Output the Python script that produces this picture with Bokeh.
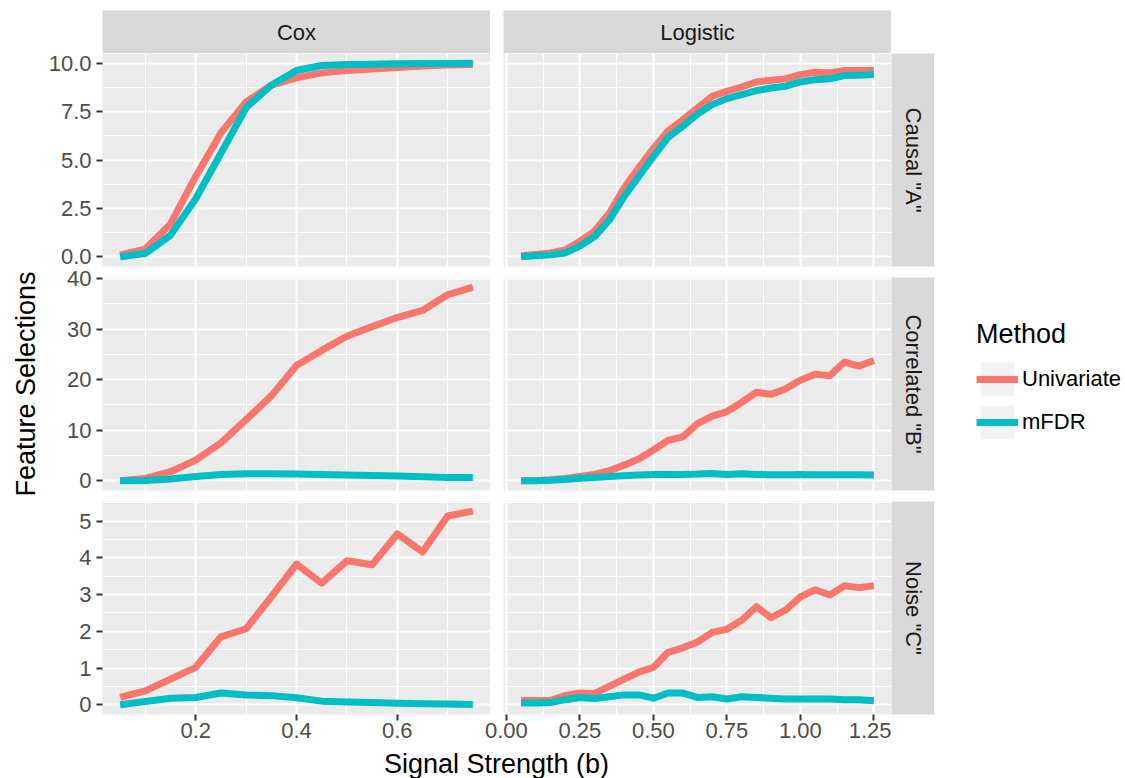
import math
from bokeh.plotting import figure
from bokeh.models import (FixedTicker, LinearAxis, Grid, Range1d, NumeralTickFormatter,
                          Label, Legend, LegendItem, GridBox, Spacer)
from bokeh.embed import file_html
from bokeh.resources import INLINE

# ---------------- data ----------------
cox_x = [0.05, 0.10, 0.15, 0.20, 0.25, 0.30, 0.35, 0.40, 0.45, 0.50, 0.55, 0.60, 0.65, 0.70, 0.75]
logit_x = [0.05, 0.10, 0.15, 0.20, 0.25, 0.30, 0.35, 0.40, 0.45, 0.50, 0.55, 0.60, 0.65,
           0.70, 0.75, 0.80, 0.85, 0.90, 0.95, 1.00, 1.05, 1.10, 1.15, 1.20, 1.25]

cox_causal_uni = [0.1, 0.4, 1.7, 4.15, 6.4, 8.0, 8.86, 9.24, 9.5, 9.62, 9.7, 9.78, 9.85, 9.9, 9.93]
cox_causal_mfdr = [0.0, 0.17, 1.12, 3.0, 5.35, 7.7, 8.86, 9.62, 9.88, 9.93, 9.95, 9.97, 9.98, 9.99, 10.0]
logit_causal_uni = [0.05, 0.12, 0.2, 0.35, 0.8, 1.33, 2.25, 3.54, 4.6, 5.6, 6.5, 7.08, 7.69, 8.29,
                    8.55, 8.77, 9.03, 9.12, 9.19, 9.41, 9.53, 9.5, 9.62, 9.62, 9.64]
logit_causal_mfdr = [0.0, 0.05, 0.1, 0.2, 0.55, 1.04, 1.9, 3.1, 4.15, 5.18, 6.17, 6.74, 7.37, 7.86,
                     8.17, 8.38, 8.58, 8.72, 8.81, 9.03, 9.15, 9.19, 9.36, 9.38, 9.41]

cox_corr_uni = [0.0, 0.47, 1.8, 4.1, 7.5, 12.1, 16.8, 22.8, 25.8, 28.6, 30.5, 32.3, 33.7, 36.8, 38.3]
cox_corr_mfdr = [0.0, 0.05, 0.35, 0.87, 1.27, 1.4, 1.4, 1.35, 1.27, 1.15, 1.05, 0.93, 0.8, 0.67, 0.67]
logit_corr_uni = [0.0, 0.07, 0.2, 0.47, 0.87, 1.27, 2.0, 3.1, 4.3, 6.1, 8.0, 8.7, 11.3, 12.8,
                  13.7, 15.5, 17.5, 17.1, 18.2, 19.9, 21.1, 20.8, 23.5, 22.7, 23.8]
logit_corr_mfdr = [0.0, 0.0, 0.1, 0.27, 0.5, 0.67, 0.87, 1.0, 1.13, 1.27, 1.27, 1.27, 1.33, 1.47,
                   1.27, 1.4, 1.27, 1.2, 1.2, 1.27, 1.2, 1.2, 1.2, 1.2, 1.13]

cox_noise_uni = [0.2, 0.38, 0.7, 1.02, 1.85, 2.07, 2.94, 3.83, 3.31, 3.92, 3.81, 4.65, 4.16, 5.14, 5.27]
cox_noise_mfdr = [0.0, 0.09, 0.18, 0.2, 0.32, 0.27, 0.25, 0.19, 0.1, 0.08, 0.06, 0.04, 0.03, 0.02, 0.01]
logit_noise_uni = [0.12, 0.12, 0.12, 0.25, 0.32, 0.31, 0.5, 0.7, 0.89, 1.02, 1.43, 1.55, 1.71, 1.97,
                   2.06, 2.3, 2.67, 2.37, 2.58, 2.94, 3.13, 2.99, 3.24, 3.19, 3.24]
logit_noise_mfdr = [0.05, 0.05, 0.06, 0.14, 0.2, 0.17, 0.22, 0.27, 0.27, 0.18, 0.32, 0.32, 0.2, 0.22,
                    0.16, 0.22, 0.2, 0.18, 0.16, 0.16, 0.16, 0.16, 0.14, 0.14, 0.11]

col_labels = ["Cox", "Logistic"]
row_labels = ['Causal "A"', 'Correlated "B"', 'Noise "C"']
method_labels = ["Univariate", "mFDR"]

cox_xticks = [0.2, 0.4, 0.6]
cox_xminor = [0.0, 0.1, 0.3, 0.5, 0.7, 0.8]
logit_xticks = [0.0, 0.25, 0.5, 0.75, 1.0, 1.25]
logit_xminor = [-0.125, 0.125, 0.375, 0.625, 0.875, 1.125, 1.375]
row1_yticks = [0.0, 2.5, 5.0, 7.5, 10.0]
row1_yminor = [-1.25, 1.25, 3.75, 6.25, 8.75, 11.25]
row2_yticks = [0, 10, 20, 30, 40]
row2_yminor = [-5, 5, 15, 25, 35, 45]
row3_yticks = [0, 1, 2, 3, 4, 5]
row3_yminor = [-0.5, 0.5, 1.5, 2.5, 3.5, 4.5, 5.5]

# ---------------- style ----------------
FONT = "Liberation Sans"
RED = "#F8766D"
TEAL = "#00BFC4"
PANEL_BG = "#EBEBEB"
STRIP_BG = "#D9D9D9"
LW = 7


def expanded(*series):
    lo = min(min(s) for s in series)
    hi = max(max(s) for s in series)
    pad = 0.05 * (hi - lo)
    return (lo - pad, hi + pad)


def base_fig(width, height, xr=(0, 1), yr=(0, 1), mbl=0, mbr=0, mbt=0, mbb=0,
             bg="white", transparent=False):
    p = figure(width=width, height=height, x_range=Range1d(*xr), y_range=Range1d(*yr),
               x_axis_location=None, y_axis_location=None, toolbar_location=None,
               output_backend="svg", min_border_left=mbl, min_border_right=mbr,
               min_border_top=mbt, min_border_bottom=mbb, background_fill_color=bg,
               border_fill_color="white", border_fill_alpha=0 if transparent else 1,
               outline_line_color=None)
    p.center = [r for r in p.center if not isinstance(r, Grid)]
    return p


def style_axis(ax, standoff):
    ax.axis_line_color = None
    ax.major_tick_line_color = "#333333"
    ax.major_tick_line_width = 2
    ax.major_tick_out = 6
    ax.major_tick_in = 0
    ax.minor_tick_line_color = None
    ax.major_label_text_font = FONT
    ax.major_label_text_font_size = "22px"
    ax.major_label_text_color = "#4D4D4D"
    ax.major_label_standoff = standoff


def panel(xs, uni, mf, xr, yr, xt, xm, yt, ym, xfmt, yfmt, width, height, mbl, mbt, mbb,
          left=False, below=False):
    p = base_fig(width, height, xr, yr, mbl=mbl, mbt=mbt, mbb=mbb, bg=PANEL_BG,
                 transparent=True)
    xtk = FixedTicker(ticks=xt, minor_ticks=xm)
    ytk = FixedTicker(ticks=yt, minor_ticks=ym)
    for dim, tk in ((0, xtk), (1, ytk)):
        p.add_layout(Grid(dimension=dim, ticker=tk, grid_line_color="white", grid_line_width=2,
                          minor_grid_line_color="white", minor_grid_line_width=1))
    if left:
        ax = LinearAxis(ticker=ytk, formatter=NumeralTickFormatter(format=yfmt))
        style_axis(ax, 5)
        p.add_layout(ax, "left")
    if below:
        ax = LinearAxis(ticker=xtk, formatter=NumeralTickFormatter(format=xfmt))
        style_axis(ax, 2)
        p.add_layout(ax, "below")
    p.line(xs, uni, line_color=RED, line_width=LW, line_join="round")
    p.line(xs, mf, line_color=TEAL, line_width=LW, line_join="round")
    return p


def strip_top(text, width, mbl):
    s = base_fig(width, 53, mbl=mbl, mbt=10, bg=STRIP_BG)
    s.add_layout(Label(x=0.5, y=0.5, text=text, text_align="center", text_baseline="middle",
                       text_font=FONT, text_font_size="22px", text_color="#1A1A1A"))
    return s


def strip_right(text, height, mbt, mbb):
    s = base_fig(43, height, mbt=mbt, mbb=mbb, bg=STRIP_BG, transparent=True)
    s.add_layout(Label(x=0.5, y=0.5, text=text, angle=-math.pi / 2, text_align="center",
                       text_baseline="middle", text_font=FONT, text_font_size="22px",
                       text_color="#1A1A1A"))
    return s


cox_xr = expanded(cox_x)
logit_xr = expanded(logit_x)
r1 = expanded(cox_causal_uni, cox_causal_mfdr, logit_causal_uni, logit_causal_mfdr)
r2 = expanded(cox_corr_uni, cox_corr_mfdr, logit_corr_uni, logit_corr_mfdr)
r3 = expanded(cox_noise_uni, cox_noise_mfdr, logit_noise_uni, logit_noise_mfdr)

# Grid tracks (px): rows overlap by OV so that tick labels near panel edges are not clipped
FH = 213          # panel frame height
OV = 6            # overlap track between consecutive rows
TRACKS = [47, OV, 211, OV, 218, OV, 254, 30]
AXB = 34          # bottom axis area
YL = 45           # width of the y-title column
CL = 56           # left border of Cox panels (tick labels)
COXW = CL + 389
LOGW = 13 + 388

# row groups: (top border, bottom border)
B1 = (OV, 4)
B2 = (13, 4)
B3 = (13, AXB)
H1 = B1[0] + FH + B1[1]
H2 = B2[0] + FH + B2[1]
H3 = B3[0] + FH + B3[1]

p11 = panel(cox_x, cox_causal_uni, cox_causal_mfdr, cox_xr, r1, cox_xticks, cox_xminor,
            row1_yticks, row1_yminor, "0.0", "0.0", COXW, H1, CL, *B1, left=True)
p12 = panel(logit_x, logit_causal_uni, logit_causal_mfdr, logit_xr, r1, logit_xticks, logit_xminor,
            row1_yticks, row1_yminor, "0.00", "0.0", LOGW, H1, 13, *B1)
p21 = panel(cox_x, cox_corr_uni, cox_corr_mfdr, cox_xr, r2, cox_xticks, cox_xminor,
            row2_yticks, row2_yminor, "0.0", "0", COXW, H2, CL, *B2, left=True)
p22 = panel(logit_x, logit_corr_uni, logit_corr_mfdr, logit_xr, r2, logit_xticks, logit_xminor,
            row2_yticks, row2_yminor, "0.00", "0", LOGW, H2, 13, *B2)
p31 = panel(cox_x, cox_noise_uni, cox_noise_mfdr, cox_xr, r3, cox_xticks, cox_xminor,
            row3_yticks, row3_yminor, "0.0", "0", COXW, H3, CL, *B3, left=True, below=True)
p32 = panel(logit_x, logit_noise_uni, logit_noise_mfdr, logit_xr, r3, logit_xticks, logit_xminor,
            row3_yticks, row3_yminor, "0.00", "0", LOGW + 6, H3, 19, *B3, below=True)

st1 = strip_top(col_labels[0], COXW, CL)
st2 = strip_top(col_labels[1], LOGW, 13)
sr1 = strip_right(row_labels[0], H1, *B1)
sr2 = strip_right(row_labels[1], H2, *B2)
sr3 = strip_right(row_labels[2], H3, *B3)

# y-axis title column
yt_fig = base_fig(YL, sum(TRACKS[1:7]), mbt=B1[0], mbb=AXB, transparent=True)
yt_fig.add_layout(Label(x=25, y=0.5, x_units="screen", y_units="data", text="Feature Selections",
                        angle=math.pi / 2, text_align="center", text_baseline="middle",
                        text_font=FONT, text_font_size="27px", text_color="black"))

# legend: its own figure, whose renderers carry the series but lie outside the visible range
lf = base_fig(191, H2, xr=(-3, -2), yr=(0, 1), mbt=B2[0], mbb=B2[1], transparent=True)
bg = lf.quad(left=cox_x, right=cox_x, bottom=cox_corr_mfdr, top=cox_corr_uni,
             fill_color="#F2F2F2", line_color=None)
lr = lf.line(cox_x, cox_corr_uni, line_color=RED, line_width=LW)
lt = lf.line(cox_x, cox_corr_mfdr, line_color=TEAL, line_width=LW)
leg = Legend(items=[LegendItem(label=method_labels[0], renderers=[bg, lr]),
                    LegendItem(label=method_labels[1], renderers=[bg, lt])],
             location="top_left", title="Method", padding=0, margin=42, spacing=1,
             glyph_width=42, glyph_height=42, label_height=42, label_standoff=4,
             label_text_font=FONT, label_text_font_size="22px", label_text_color="black",
             title_text_font=FONT, title_text_font_size="27px", title_text_font_style="normal",
             title_text_color="black", title_standoff=8, border_line_color=None,
             background_fill_alpha=0)
lf.add_layout(leg, "center")

# x-axis title
tf = base_fig(YL + COXW + LOGW, TRACKS[7])
tf.add_layout(Label(x=496, y=15, x_units="screen", y_units="screen", text="Signal Strength (b)",
                    text_align="center", text_baseline="middle", text_font=FONT,
                    text_font_size="27px", text_color="black"))

children = [(Spacer(width=1, height=h), i, 0) for i, h in enumerate(TRACKS[:7])]
children += [
    (Spacer(width=COXW - 6, height=1), 7, 1),
    (Spacer(width=6, height=1), 7, 2),
    (st1, 0, 1, 2, 2), (st2, 0, 3, 2, 1),
    (yt_fig, 1, 0, 6, 1),
    (p11, 1, 1, 3, 2), (p12, 1, 3, 3, 1), (sr1, 1, 4, 3, 1),
    (p21, 3, 1, 3, 2), (p22, 3, 3, 3, 1), (sr2, 3, 4, 3, 1), (lf, 3, 5, 3, 1),
    (p31, 5, 1, 2, 2), (sr3, 5, 4, 2, 1),
    (p32, 5, 2, 2, 2),
    (tf, 7, 0, 1, 4),
]
layout = GridBox(children=children, spacing=0)

open("out.html", "w").write(file_html(layout, INLINE, title="plot"))
